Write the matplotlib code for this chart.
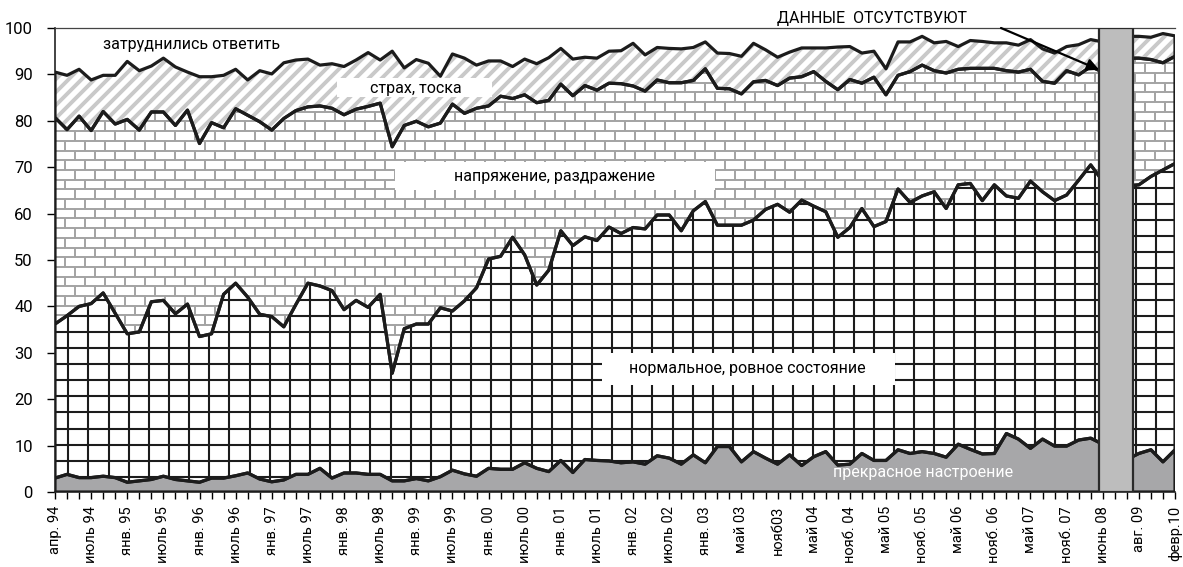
import matplotlib
matplotlib.use('Agg')
import matplotlib.pyplot as plt
import numpy as np
from matplotlib.collections import LineCollection
from matplotlib.patches import Rectangle

plt.rcParams['font.family'] = ['Roboto', 'DejaVu Sans']

# x-axis labels, one every 3 survey waves
month_labels = ['апр. 94', 'июль 94', 'янв. 95', 'июль 95', 'янв. 96', 'июль 96',
                'янв. 97', 'июль 97', 'янв. 98', 'июль 98', 'янв. 99', 'июль 99',
                'янв. 00', 'июль 00', 'янв. 01', 'июль 01', 'янв. 02', 'июль 02',
                'янв. 03', 'май 03', 'нояб03', 'май 04', 'нояб. 04', 'май 05',
                'нояб. 05', 'май 06', 'нояб. 06', 'май 07', 'нояб. 07', 'июнь 08',
                'авг. 09', 'февр.10']

# stacked levels (cumulative %), one value per survey wave
good = [3.0, 3.8, 3.1, 3.1, 3.4, 3.1, 2.1, 2.4, 2.7, 3.4,
        2.7, 2.4, 2.1, 3.0, 3.0, 3.5, 4.1, 2.8, 2.2, 2.6,
        3.8, 3.8, 5.1, 3.0, 4.1, 4.1, 3.8, 3.8, 2.4, 2.4,
        2.9, 2.4, 3.3, 4.7, 3.9, 3.4, 5.1, 4.9, 4.9, 6.3,
        5.1, 4.4, 6.8, 4.2, 7.0, 6.8, 6.7, 6.3, 6.5, 6.0,
        7.8, 7.3, 6.0, 8.0, 6.3, 9.8, 9.8, 6.5, 8.7, 7.3,
        6.0, 8.0, 5.7, 7.6, 8.7, 5.8, 6.0, 8.3, 6.8, 6.8,
        9.1, 8.3, 8.7, 8.3, 7.5, 10.3, 9.2, 8.2, 8.3, 12.6,
        11.4, 9.4, 11.4, 9.9, 9.9, 11.2, 11.6, 10.3, 9.0, 7.0,
        8.3, 9.1, 6.5, 9.1]

normal_top = [36.2, 38.0, 40.0, 40.6, 42.9, 38.5, 34.1, 34.5, 41.0, 41.3,
              38.4, 40.5, 33.5, 34.1, 42.6, 45.0, 42.0, 38.3, 37.8, 35.6,
              40.4, 45.0, 44.4, 43.4, 39.3, 41.3, 39.8, 42.6, 25.6, 35.2,
              36.2, 36.2, 39.7, 39.0, 41.2, 44.0, 50.2, 50.8, 54.9, 51.1,
              44.6, 47.8, 56.3, 53.1, 55.0, 54.2, 57.1, 55.7, 57.0, 56.7,
              59.7, 59.7, 56.3, 60.6, 62.6, 57.5, 57.5, 57.5, 58.6, 60.9,
              62.0, 60.3, 62.9, 61.6, 60.4, 54.9, 57.0, 61.1, 57.2, 58.3,
              65.3, 62.4, 63.8, 64.7, 61.1, 66.2, 66.5, 62.8, 66.2, 63.8,
              63.3, 67.0, 64.7, 62.8, 64.0, 67.2, 70.5, 67.0, 66.5, 66.0,
              66.2, 68.0, 69.4, 70.8]

tension_top = [80.7, 78.1, 81.0, 77.9, 82.0, 79.3, 80.3, 78.0, 81.9, 81.9,
               79.0, 82.3, 75.1, 79.6, 78.5, 82.6, 81.2, 79.8, 78.0, 80.5,
               82.2, 83.0, 83.2, 82.7, 81.3, 82.5, 83.1, 83.8, 74.4, 79.0,
               79.9, 78.7, 79.5, 83.6, 81.6, 82.7, 83.2, 85.3, 84.8, 85.6,
               83.9, 84.4, 87.9, 85.4, 87.6, 86.6, 88.1, 88.0, 87.5, 86.4,
               88.8, 88.2, 88.2, 88.7, 91.2, 87.0, 86.9, 85.8, 88.4, 88.7,
               87.6, 89.2, 89.5, 90.6, 88.5, 86.7, 88.9, 88.1, 89.4, 85.6,
               89.8, 90.6, 92.0, 90.8, 90.3, 91.1, 91.3, 91.3, 91.3, 90.8,
               90.5, 91.1, 88.5, 88.1, 90.8, 89.9, 91.7, 90.5, 92.0, 93.5,
               93.5, 93.2, 92.5, 93.9]

fear_top = [90.5, 89.8, 91.1, 88.8, 89.8, 89.8, 92.8, 90.8, 91.8, 93.5,
            91.6, 90.5, 89.5, 89.5, 89.8, 91.1, 88.8, 90.8, 90.1, 92.5,
            93.1, 93.3, 92.0, 92.3, 91.7, 93.1, 94.7, 93.1, 95.0, 91.4,
            93.2, 92.4, 89.6, 94.4, 93.5, 92.0, 92.9, 92.9, 91.7, 93.3,
            92.3, 93.6, 95.6, 93.3, 93.7, 93.5, 95.0, 95.1, 96.7, 94.2,
            95.8, 95.6, 95.5, 95.8, 97.0, 94.6, 94.5, 93.9, 96.7, 95.3,
            93.7, 94.8, 95.7, 95.7, 95.7, 95.9, 96.0, 94.6, 95.0, 91.2,
            97.0, 97.0, 98.2, 96.8, 97.1, 96.0, 97.3, 97.1, 96.8, 96.8,
            96.3, 97.5, 95.5, 94.6, 96.0, 96.4, 97.5, 97.0, 97.5, 98.2,
            98.2, 98.0, 98.8, 98.3]

W_PX, H_PX = 1120, 464
LINE = '#1c1c1c'

fig = plt.figure(figsize=(11.83, 5.67), dpi=100)
ax = fig.add_axes([55 / 1183, 75 / 567, W_PX / 1183, H_PX / 567])

x = np.arange(len(good))
zero = np.zeros(len(good))


def add_pattern(segs_px, clip, color, lw):
    # pattern lines given in pixels inside the axes, clipped to an area
    segs = [[(a / W_PX, b / H_PX), (c / W_PX, d / H_PX)] for a, b, c, d in segs_px]
    lc = LineCollection(segs, colors=color, linewidths=lw,
                        transform=ax.transAxes, zorder=2)
    ax.add_collection(lc, autolim=False)
    lc.set_clip_path(clip.get_paths()[0], ax.transData)


layers = [(zero, good), (good, normal_top), (normal_top, tension_top),
          (tension_top, fear_top), (fear_top, np.full(len(good), 100.0))]
faces = ['#a7a7a9', 'white', 'white', 'white', 'white']
polys = []
for (lo, hi), fc in zip(layers, faces):
    polys.append(ax.fill_between(x, lo, hi, facecolor=fc, edgecolor='none',
                                 linewidth=0, zorder=1))

# grid fill for "нормальное"
grid = [(13.3 + 20.14 * m, 0, 13.3 + 20.14 * m, H_PX) for m in range(56)]
grid += [(0, 15.3 + 16.06 * k, W_PX, 15.3 + 16.06 * k) for k in range(29)]
add_pattern(grid, polys[1], '#1c1c1c', 1.5)

# brick fill for "напряжение"
bh, bw = 9.7, 20.0
bricks = []
for r in range(int(H_PX / bh) + 2):
    y0 = 2 + r * bh
    bricks.append((0, y0, W_PX, y0))
    off = 0 if r % 2 == 0 else bw / 2
    for m in range(-1, int(W_PX / bw) + 2):
        xx = off + m * bw
        bricks.append((xx, y0, xx, y0 + bh))
add_pattern(bricks, polys[2], '#a3a3a3', 1.4)

# diagonal stripes for "страх"
stripes = [(c, 0, c + H_PX, H_PX) for c in np.arange(-H_PX, W_PX + 13, 13.0)]
add_pattern(stripes, polys[3], '#c9c9c9', 2.8)

# outlines of the stacked areas
for lo, hi in layers[:4]:
    ax.fill_between(x, lo, hi, facecolor='none', edgecolor=LINE,
                    linewidth=2.3, zorder=4)


def box(x0, x1, y0, y1):
    # white label box, given in pixels of the figure
    ax.add_patch(Rectangle(((x0 - 55) / W_PX, (492 - y1) / H_PX),
                           (x1 - x0) / W_PX, (y1 - y0) / H_PX,
                           transform=ax.transAxes, facecolor='white',
                           edgecolor='none', zorder=3))


box(337, 492, 78, 97)
box(395, 715, 162, 190)
box(602, 895, 353, 385)


def label(px, py, s, **kw):
    ax.text((px - 55) / W_PX, (492 - py) / H_PX, s, transform=ax.transAxes,
            ha='center', va='center', fontsize=11.5, zorder=6, **kw)


label(192, 45, 'затруднились ответить')
label(416, 88, 'страх, тоска')
label(555, 177, 'напряжение, раздражение')
label(747, 369, 'нормальное, ровное состояние')
label(923, 472, 'прекрасное настроение', color='white')

# "no data" column
gap_start, gap_end = 86.7, 89.5
ax.add_patch(Rectangle((gap_start, 0), gap_end - gap_start, 100,
                       facecolor='#bdbdbd', edgecolor='#2a2a2a',
                       linewidth=1.6, zorder=7))
ax.text((872 - 55) / W_PX, (492 - 19) / H_PX, 'ДАННЫЕ  ОТСУТСТВУЮТ',
        transform=ax.transAxes, ha='center', va='center', fontsize=11.5,
        zorder=8, clip_on=False)
ax.annotate('', xy=(gap_start, 91.0), xytext=((1001 - 55) / W_PX, 1.0),
            xycoords='data', textcoords='axes fraction',
            arrowprops=dict(arrowstyle='-|>', color='black', lw=1.6,
                            mutation_scale=18, shrinkA=0, shrinkB=0),
            zorder=8, annotation_clip=False)

ax.set_xlim(0, len(good) - 1)
ax.set_ylim(0, 100)
ax.set_yticks(range(0, 101, 10))
ax.set_xticks(range(0, len(good), 3))
ax.set_xticklabels(month_labels, rotation=90, fontsize=10.5)
ax.set_xticks(range(len(good)), minor=True)
ax.tick_params(axis='y', labelsize=12, length=6, width=1, pad=10, direction='out')
ax.tick_params(axis='x', which='both', length=5, width=1, pad=5, direction='out')

for side in ['left', 'bottom']:
    ax.spines[side].set_linewidth(1.2)
    ax.spines[side].set_color('#222222')
ax.spines['top'].set_linewidth(0.9)
ax.spines['top'].set_color('#444444')
ax.spines['right'].set_visible(False)

fig.savefig('out.png', dpi=100)
